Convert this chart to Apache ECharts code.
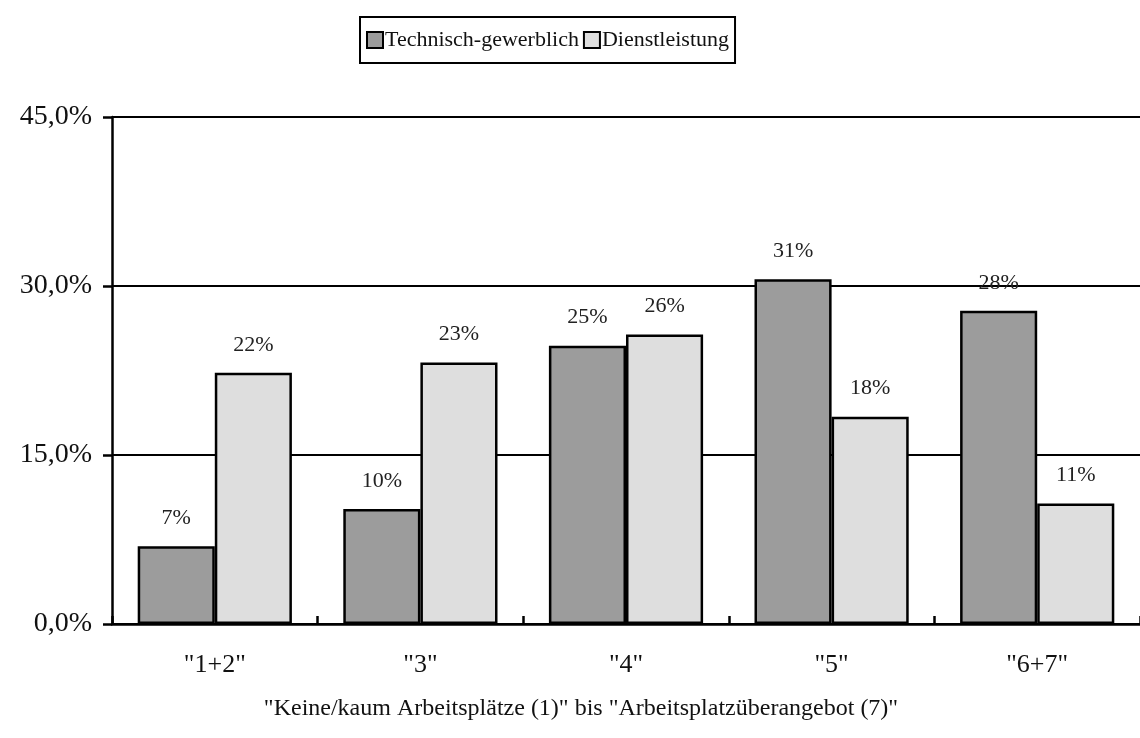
<!DOCTYPE html>
<html>
<head>
<meta charset="utf-8">
<script src="https://cdn.jsdelivr.net/npm/echarts@6/dist/echarts.min.js"></script>
<style>
    html, body { margin: 0; padding: 0; background: #fff; }
</style>
</head>
<body>
<div style="width:1140px;height:738px;" id="arbeitsplatz_chart"></div>
<script>
// Werte (in %)
var categories = ['"1+2"', '"3"', '"4"', '"5"', '"6+7"'];
var seriesNames = ['Technisch-gewerblich', 'Dienstleistung'];
var technisch = [6.9, 10.2, 24.7, 30.6, 27.8];
var dienstleistung = [22.3, 23.2, 25.7, 18.4, 10.7];
var xAxisTitle = '"Keine/kaum Arbeitsplätze (1)" bis "Arbeitsplatzüberangebot (7)"';

var chart = echarts.init(document.getElementById('arbeitsplatz_chart'));
var fontFam = '"Liberation Serif", "DejaVu Serif", serif';

var labelStyle = {
    show: true,
    position: 'top',
    distance: 17,
    color: '#222',
    fontFamily: fontFam,
    fontSize: 22,
    formatter: function (p) {
        return Math.round(p.value) + '%';
    }
};

const option = {
    animation: false,
    backgroundColor: '#fff',
    textStyle: { fontFamily: fontFam },
    legend: {
        top: 17,
        left: 360,
        data: seriesNames,
        icon: 'rect',
        itemWidth: 16,
        itemHeight: 16,
        itemGap: 4,
        padding: [11, 6, 11, 6],
        borderColor: '#000',
        borderWidth: 2,
        itemStyle: { borderColor: '#000', borderWidth: 2 },
        textStyle: { fontFamily: fontFam, fontSize: 22, lineHeight: 24, color: '#111', padding: [0, 0, 0, -3] }
    },
    grid: {
        left: 112,
        right: -10,
        top: 117,
        bottom: 114,
        containLabel: false
    },
    xAxis: {
        type: 'category',
        data: categories,
        name: xAxisTitle,
        nameLocation: 'middle',
        nameGap: 73,
        nameTextStyle: { fontFamily: fontFam, fontSize: 24, color: '#111', padding: [0, 90, 0, 0] },
        axisLine: { lineStyle: { color: '#000', width: 2.5 } },
        axisTick: { show: true, inside: true, length: 8, lineStyle: { color: '#000', width: 2.5 } },
        axisLabel: { fontFamily: fontFam, fontSize: 26, color: '#111', margin: 28 }
    },
    yAxis: {
        type: 'value',
        min: 0,
        max: 45,
        interval: 15,
        axisLine: { show: true, lineStyle: { color: '#000', width: 2.5 } },
        axisTick: { show: true, length: 9, lineStyle: { color: '#000', width: 2.5 } },
        axisLabel: {
            fontFamily: fontFam,
            fontSize: 28,
            color: '#111',
            margin: 20,
            formatter: function (v) {
                return v.toFixed(1).replace('.', ',') + '%';
            }
        },
        splitLine: { show: true, lineStyle: { color: '#000', width: 2 } }
    },
    series: [
        {
            name: seriesNames[0],
            type: 'bar',
            data: technisch,
            barWidth: '37.5%',
            barGap: '0%',
            itemStyle: { color: '#9c9c9c', borderColor: '#000', borderWidth: 2.5 },
            label: labelStyle
        },
        {
            name: seriesNames[1],
            type: 'bar',
            data: dienstleistung,
            barWidth: '37.5%',
            barGap: '0%',
            itemStyle: { color: '#dedede', borderColor: '#000', borderWidth: 2.5 },
            label: labelStyle
        }
    ]
};
chart.setOption(option);
window.addEventListener('resize', function () {
    chart.resize();
});
</script>
</body>
</html>
